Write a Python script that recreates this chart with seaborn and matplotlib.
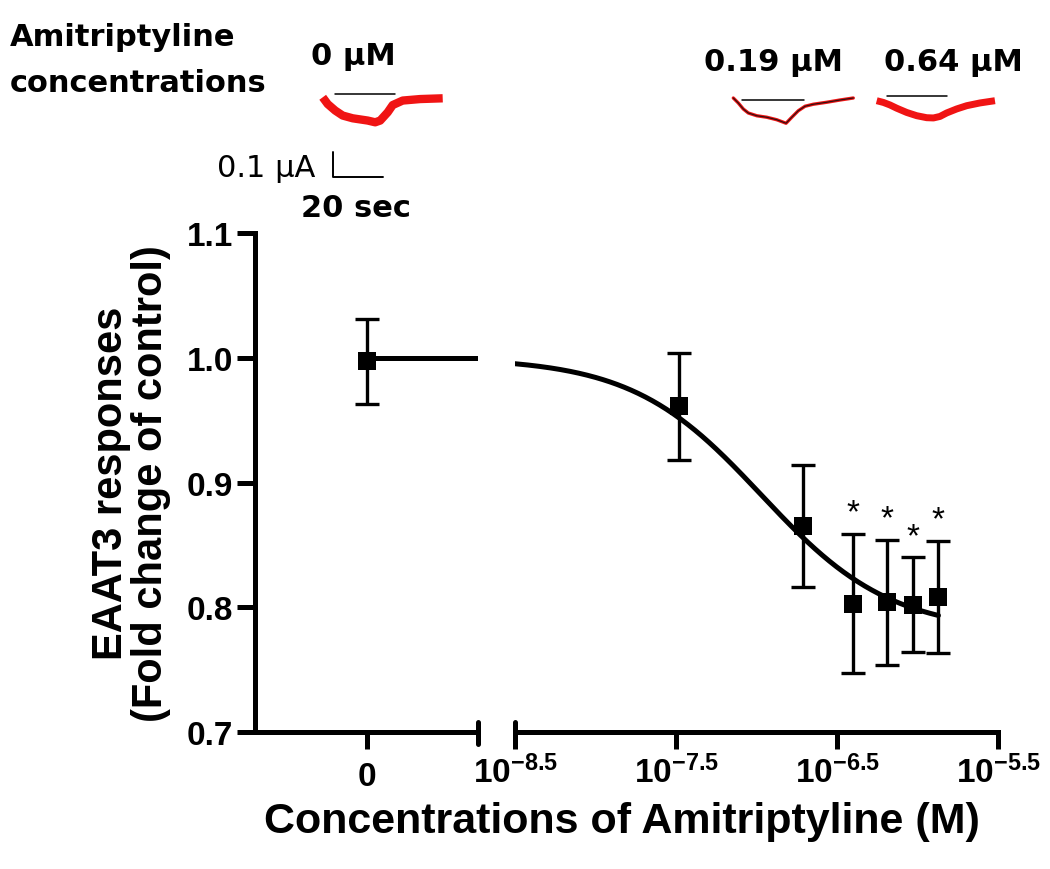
import numpy as np
import pandas as pd
import matplotlib
matplotlib.use("Agg")
import matplotlib.pyplot as plt
from matplotlib.ticker import FormatStrFormatter
import seaborn as sns

# ---------------- data ----------------
# control (no drug) point, plotted on the "0" segment of the broken axis
zero_x = [0.0]
zero_mean = [0.997]
zero_sem = [0.034]

# log10 molar concentrations of amitriptyline
log_conc = [-7.48, -6.71, -6.40, -6.19, -6.03, -5.87]
resp_mean = [0.961, 0.865, 0.803, 0.804, 0.802, 0.808]
resp_sem = [0.043, 0.049, 0.056, 0.050, 0.038, 0.045]
significant = [False, False, True, True, True, True]

# fitted sigmoid (4-parameter logistic)
fit_top = 1.0
fit_bottom = 0.78
fit_logec50 = -6.97
fit_hill = 1.08

y_ticks = [0.7, 0.8, 0.9, 1.0, 1.1]
left_ticks = [0]
left_ticklabels = ["0"]
right_ticks = [-8.5, -7.5, -6.5, -5.5]
right_ticklabels = [r"$10^{-8.5}$", r"$10^{-7.5}$", r"$10^{-6.5}$", r"$10^{-5.5}$"]

# example current traces (time in s, current in uA), with drug-application bars
trace_labels = ["0 \u00b5M", "0.19 \u00b5M", "0.64 \u00b5M"]
trace0_t = [0, 2, 5, 8, 12, 18, 21, 23, 26, 28, 32, 39, 48]
trace0_i = [0, -0.027, -0.053, -0.073, -0.084, -0.093, -0.100, -0.093, -0.060, -0.031, -0.013, -0.007, -0.004]
trace1_t = [0, 2, 4, 6, 9.4, 13.4, 17.4, 21.1, 23.4, 26, 28.7, 32, 37.4, 42.7, 48]
trace1_i = [0, -0.020, -0.044, -0.060, -0.071, -0.077, -0.087, -0.101, -0.077, -0.051, -0.033, -0.025, -0.017, -0.008, 0]
trace2_t = [0, 2.7, 5.3, 8, 12, 16, 20, 22.7, 25.3, 28, 32, 36, 41.3, 47.3]
trace2_i = [0, -0.007, -0.017, -0.030, -0.047, -0.060, -0.068, -0.069, -0.063, -0.049, -0.033, -0.020, -0.009, 0]
bar0 = [5, 29, 0.013]
bar1 = [3.4, 28.3, -0.007]
bar2 = [4, 28, 0.020]
scale_time = 20     # s
scale_current = 0.1  # uA

# ---------------- style ----------------
sns.set_style("white")
plt.rcParams["font.family"] = ["Liberation Sans", "DejaVu Sans"]
for k in ("text.color", "axes.edgecolor", "axes.labelcolor", "xtick.color", "ytick.color"):
    plt.rcParams[k] = "black"
plt.rcParams["mathtext.fontset"] = "custom"
plt.rcParams["mathtext.rm"] = "Liberation Sans:bold"
plt.rcParams["mathtext.bf"] = "Liberation Sans:bold"
plt.rcParams["mathtext.it"] = "Liberation Sans:bold"
plt.rcParams["mathtext.default"] = "regular"

W, H = 1050, 870
fig = plt.figure(figsize=(W / 100, H / 100), dpi=100)
fig.patch.set_facecolor("white")


def px_axes(x0, y0, x1, y1):
    return fig.add_axes([x0 / W, 1 - y1 / H, (x1 - x0) / W, (y1 - y0) / H])


SPINE_LW = 3.6
axL = px_axes(255, 234, 478, 733)
axR = px_axes(515, 234, 998, 733)
left_xlim = (-1.0, 1.0)
right_xlim = (-8.5, -5.5)

for ax in (axL, axR):
    ax.set_facecolor("none")
    ax.set_ylim(0.7, 1.1)
    for s in ("top", "right"):
        ax.spines[s].set_visible(False)
    ax.spines["bottom"].set_linewidth(SPINE_LW)
    ax.spines["left"].set_linewidth(SPINE_LW)
    ax.tick_params(axis="x", direction="out", length=12, width=SPINE_LW, pad=9,
                   labelsize=24, bottom=True, colors="black")
    ax.tick_params(axis="y", direction="out", length=13, width=SPINE_LW, pad=3,
                   labelsize=24, left=True, colors="black")

axR.spines["left"].set_visible(False)
axR.tick_params(axis="y", left=False, labelleft=False)
axL.set_xlim(*left_xlim)
axR.set_xlim(*right_xlim)
axL.set_yticks(y_ticks)
axL.yaxis.set_major_formatter(FormatStrFormatter("%.1f"))
axL.set_xticks(left_ticks)
axL.set_xticklabels(left_ticklabels)
axR.set_xticks(right_ticks)
axR.set_xticklabels(right_ticklabels)
axR.tick_params(axis="x", pad=4)
for ax in (axL, axR):
    for lab in ax.get_xticklabels() + ax.get_yticklabels():
        lab.set_fontweight("bold")

# break marks at the axis gap
axL.axvline(left_xlim[1], ymin=-0.024, ymax=0.02, color="black", lw=SPINE_LW, clip_on=False)
axR.axvline(right_xlim[0], ymin=-0.024, ymax=0.02, color="black", lw=SPINE_LW, clip_on=False)

# ---- control segment ----
sns.lineplot(x=[zero_x[0], left_xlim[1]], y=[fit_top, fit_top], color="black", lw=3.6,
             ax=axL, zorder=2)
axL.errorbar(zero_x, zero_mean, yerr=zero_sem, fmt="none", ecolor="black",
             elinewidth=2.4, capsize=8.5, capthick=2.4, zorder=3)
sns.scatterplot(x=zero_x, y=zero_mean, marker="s", s=13 ** 2, color="black",
                edgecolor="black", linewidth=0, ax=axL, zorder=4)

# ---- concentration-response segment ----
curve_x = np.linspace(right_xlim[0], max(log_conc), 300)
curve_y = fit_bottom + (fit_top - fit_bottom) / (1 + 10 ** ((curve_x - fit_logec50) * fit_hill))
sns.lineplot(x=curve_x, y=curve_y, color="black", lw=3.6, ax=axR, zorder=2)
axR.errorbar(log_conc, resp_mean, yerr=resp_sem, fmt="none", ecolor="black",
             elinewidth=2.4, capsize=8.5, capthick=2.4, zorder=3)
sns.scatterplot(x=log_conc, y=resp_mean, marker="s", s=13 ** 2, color="black",
                edgecolor="black", linewidth=0, ax=axR, zorder=4)
for x, m, e, sig in zip(log_conc, resp_mean, resp_sem, significant):
    if sig:
        axR.annotate("*", xy=(x, m + e), xytext=(0, 9), textcoords="offset points",
                     ha="center", va="baseline", fontsize=24, fontweight="normal")

for ax in (axL, axR):
    ax.set_xlabel("")
    ax.set_ylabel("")

axL.set_ylabel("EAAT3 responses\n(Fold change of control)", fontsize=30,
               fontweight="bold", linespacing=1.0, labelpad=11)
fig.text(622 / W, 1 - 822 / H, "Concentrations of Amitriptyline (M)", fontsize=31,
         fontweight="bold", ha="center", va="center")

# ---------------- example traces ----------------
PX_PER_S = 2.5
PX_PER_UA = 250.0


def trace_axes(x0, y0, left=6, right=134, up=20, down=36):
    a = px_axes(x0 - left, y0 - up, x0 + right, y0 + down)
    a.set_xlim(-left / PX_PER_S, right / PX_PER_S)
    a.set_ylim(-down / PX_PER_UA, up / PX_PER_UA)
    a.axis("off")
    return a


RED = "#f01414"
t0 = trace_axes(322.7, 98.3)
sns.lineplot(x=trace0_t, y=trace0_i, color=RED, lw=6, ax=t0, sort=False,
             estimator=None, solid_capstyle="butt")
sns.lineplot(x=bar0[:2], y=[bar0[2]] * 2, color="black", lw=1.1, ax=t0)

t1 = trace_axes(733.3, 99.0)
sns.lineplot(x=trace1_t, y=trace1_i, color=RED, lw=2.4, ax=t1, sort=False, estimator=None)
sns.lineplot(x=trace1_t, y=trace1_i, color="#301010", lw=0.9, ax=t1, sort=False,
             estimator=None)
sns.lineplot(x=bar1[:2], y=[bar1[2]] * 2, color="black", lw=1.1, ax=t1)

t2 = trace_axes(876.7, 101.7)
sns.lineplot(x=trace2_t, y=trace2_i, color=RED, lw=5, ax=t2, sort=False,
             estimator=None, solid_capstyle="butt")
sns.lineplot(x=bar2[:2], y=[bar2[2]] * 2, color="black", lw=1.1, ax=t2)

# scale bar (L-shaped: 0.1 uA vertical, 20 s horizontal)
sb = trace_axes(333, 178, left=3, right=57, up=28, down=3)
sns.lineplot(x=[0, 0, scale_time], y=[scale_current, 0, 0], color="black", lw=1.4,
             ax=sb, sort=False, estimator=None)

# trace annotations
heavy = dict(family=["DejaVu Sans"], fontweight="bold", fontsize=22)
fig.text(10 / W, 1 - 46 / H, "Amitriptyline", ha="left", va="baseline", **heavy)
fig.text(10 / W, 1 - 92 / H, "concentrations", ha="left", va="baseline", **heavy)
fig.text(353 / W, 1 - 65 / H, trace_labels[0], ha="center", va="baseline", **heavy)
fig.text(773 / W, 1 - 71 / H, trace_labels[1], ha="center", va="baseline", **heavy)
fig.text(953 / W, 1 - 71 / H, trace_labels[2], ha="center", va="baseline", **heavy)
fig.text(315 / W, 1 - 177 / H, "0.1 \u00b5A", ha="right", va="baseline",
         family=["DejaVu Sans"], fontsize=22)
fig.text(356 / W, 1 - 217 / H, "20 sec", ha="center", va="baseline", **heavy)

fig.savefig("out.png", dpi=100, facecolor="white")
